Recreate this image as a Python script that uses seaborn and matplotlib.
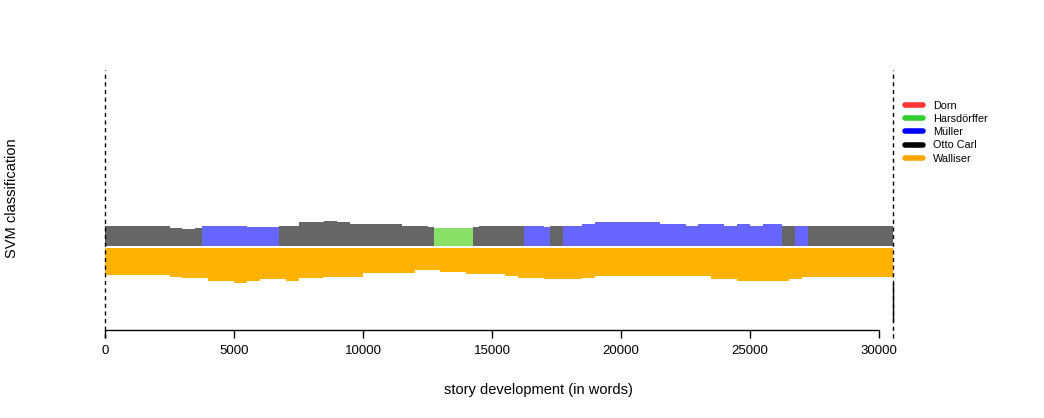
import matplotlib
matplotlib.use("Agg")
import matplotlib.pyplot as plt
from matplotlib.lines import Line2D
import seaborn as sns
import pandas as pd

# --- data (positions in words, scores in band units) ---
authors = ["Dorn", "Harsdörffer", "Müller", "Otto Carl", "Walliser"]
legend_colors = ["#ff3333", "#33cc33", "#0000ff", "#000000", "#ffa500"]
band_colors = {"Dorn": "#ff8080", "Harsdörffer": "#88e066", "Müller": "#6666ff",
               "Otto Carl": "#666666", "Walliser": "#ffb300"}

text_end = 30540

# first choice (upper band)
top_start = [0, 2500, 3000, 3500, 3750, 5500, 6750, 7500, 8500, 9000, 9500,
             11500, 12500, 12750, 14250, 14500, 16250, 17000, 17250, 17750,
             18500, 19000, 21500, 22500, 23000, 24000, 24500, 25000, 25500,
             26250, 26750, 27250]
top_author = ["Otto Carl", "Otto Carl", "Otto Carl", "Otto Carl", "Müller", "Müller",
              "Otto Carl", "Otto Carl", "Otto Carl", "Otto Carl", "Otto Carl",
              "Otto Carl", "Otto Carl", "Harsdörffer", "Otto Carl", "Otto Carl",
              "Müller", "Müller", "Otto Carl", "Müller", "Müller", "Müller",
              "Müller", "Müller", "Müller", "Müller", "Müller", "Müller", "Müller",
              "Otto Carl", "Müller", "Otto Carl"]
top_score = [19.5, 17.8, 16.2, 17.8, 19.5, 18.5, 19.5, 23.2, 24.8, 23.2, 21.2,
             19.5, 18.2, 17.8, 18.2, 19.5, 19.5, 18.2, 19.5, 19.5, 21.5, 23.2,
             21.2, 19.5, 21.2, 19.5, 21.2, 19.5, 21.2, 19.5, 19.5, 19.5]

# second choice (lower band), always Walliser
bottom_start = [0, 2500, 3000, 4000, 5000, 5500, 6000, 7000, 7500, 8500, 10000,
                12000, 13000, 14000, 15500, 16000, 17000, 18500, 19000, 23500,
                24500, 26500, 27000]
bottom_score = [26.7, 28.4, 30.0, 32.7, 34.4, 32.4, 31.0, 32.4, 30.0, 28.4, 25.0,
                22.0, 24.0, 25.4, 27.2, 29.4, 30.7, 29.4, 27.2, 30.7, 32.4, 30.4,
                28.4]

tick_values = [0, 5000, 10000, 15000, 20000, 25000, 30000]

top = pd.DataFrame({"start": top_start, "author": top_author, "score": top_score})
top["end"] = top["start"].shift(-1).fillna(text_end)
bottom = pd.DataFrame({"start": bottom_start, "score": bottom_score})
bottom["end"] = bottom["start"].shift(-1).fillna(text_end)

sns.set_theme(style="white")
plt.rcParams["font.family"] = ["Liberation Sans", "DejaVu Sans"]
plt.rcParams["text.color"] = "black"
plt.rcParams["axes.labelcolor"] = "black"
plt.rcParams["xtick.color"] = "black"

fig = plt.figure(figsize=(10.44, 4.18), dpi=100)
ax = fig.add_axes([105 / 1044, (418 - 330) / 418, (893 - 105) / 1044, (330 - 70) / 418])
ymin, ymax = -83, 177
ax.set_xlim(0, text_end)
ax.set_ylim(ymin, ymax)

gap = 1.4
ax.bar(top["start"], top["score"], width=top["end"] - top["start"], bottom=gap,
       align="edge", color=[band_colors[a] for a in top["author"]], linewidth=0)
ax.bar(bottom["start"], -bottom["score"], width=bottom["end"] - bottom["start"],
       bottom=-gap, align="edge", color=band_colors["Walliser"], linewidth=0)

# dashed markers at beginning and end of the text
for xv in (0, text_end):
    ax.plot([xv, xv], [ymin - 8, ymax], color="black", lw=1,
            linestyle=(0, (3, 2.5)), clip_on=False, zorder=3)
ax.plot([text_end, text_end], [-36, -75], color="black", lw=1, clip_on=False, zorder=3)

for s in ax.spines.values():
    s.set_visible(False)
ax.plot([tick_values[0], tick_values[-1]], [ymin, ymin], color="black", lw=1,
        clip_on=False, solid_capstyle="butt")
ax.set_xticks(tick_values)
ax.set_xticklabels([str(t) for t in tick_values])
ax.set_yticks([])
ax.tick_params(axis="x", direction="out", length=6, width=1, color="black",
               bottom=True, labelsize=9.5, pad=5)
fig.text(538 / 1044, 1 - 390 / 418, "story development (in words)",
         ha="center", va="center", fontsize=10.5)
fig.text(12 / 1044, 1 - 198 / 418, "SVM classification", rotation=90,
         ha="center", va="center", fontsize=10.5)

handles = [Line2D([0], [0], color=c, lw=4, solid_capstyle="round") for c in legend_colors]
fig.legend(handles, authors, loc="upper left",
           bbox_to_anchor=(905 / 1044, 1 - 101 / 418), frameon=False,
           fontsize=7.8, handlelength=1.67, handletextpad=0.9,
           labelspacing=0.29, borderpad=0, borderaxespad=0)

fig.savefig("out.png", dpi=100)
